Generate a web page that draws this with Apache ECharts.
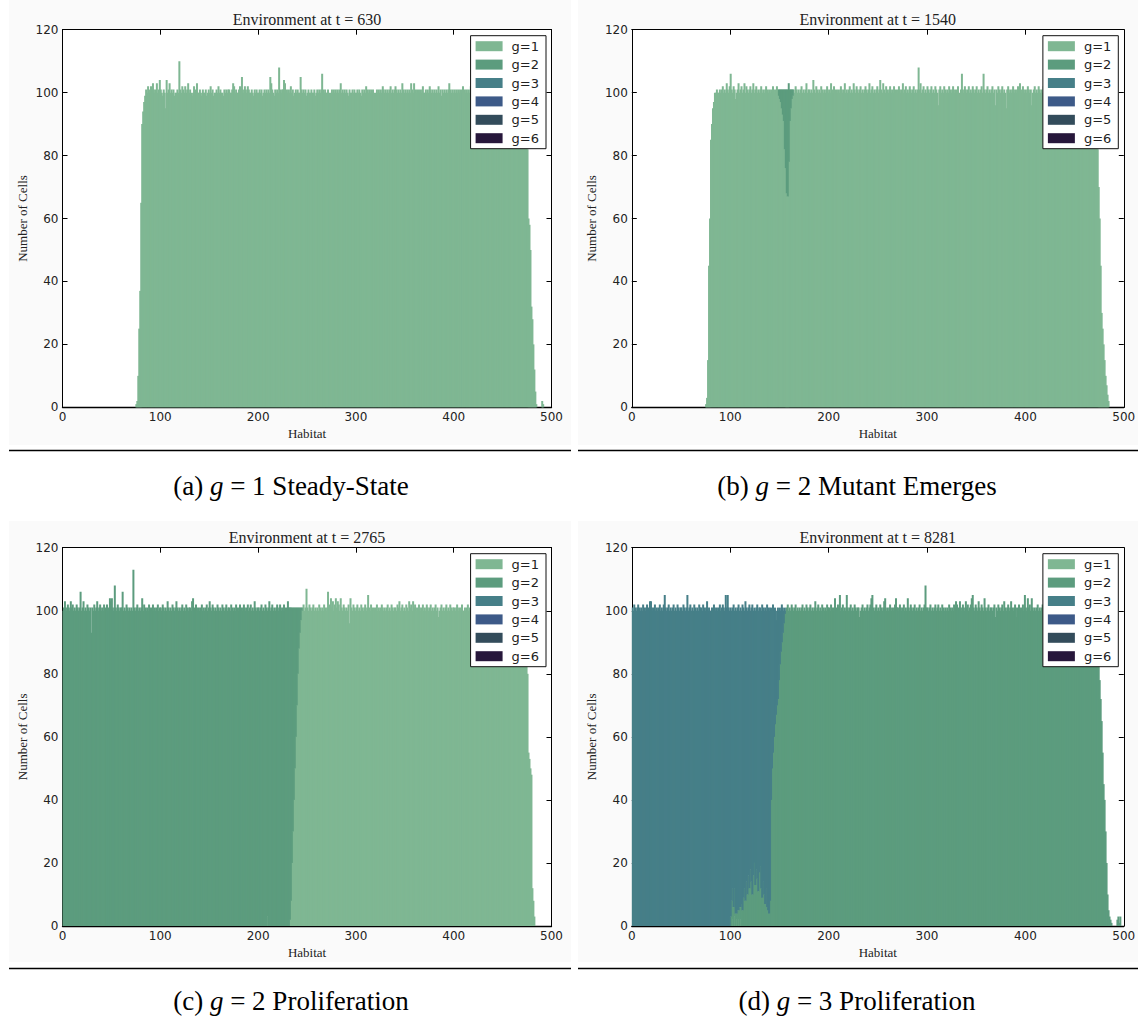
<!DOCTYPE html>
<html><head><meta charset="utf-8">
<script src="https://cdn.jsdelivr.net/npm/echarts@6/dist/echarts.min.js"></script>
<style>
html,body{margin:0;padding:0;background:#fff;width:1138px;height:1019px;overflow:hidden;}
.bg{position:absolute;background:#fafafa;}
#chart{position:absolute;left:0;top:0;width:1138px;height:1019px;}
</style></head><body>
<div class="bg" style="left:9px;top:0;width:562px;height:445px"></div>
<div class="bg" style="left:578px;top:0;width:560px;height:445px"></div>
<div class="bg" style="left:9px;top:521px;width:562px;height:441px"></div>
<div class="bg" style="left:578px;top:521px;width:560px;height:441px"></div>
<div id="chart"></div>
<script>
const legendNames = ['g=1','g=2','g=3','g=4','g=5','g=6'];
const palette = ['#7fb793','#5c9c7e','#467f88','#3d5a88','#334c5b','#27173b'];
const titles = ['Environment at t = 630','Environment at t = 1540','Environment at t = 2765','Environment at t = 8281'];
const captions = ['(a) {i|g} = 1 Steady-State','(b) {i|g} = 2 Mutant Emerges','(c) {i|g} = 2 Proliferation','(d) {i|g} = 3 Proliferation'];
const xTickInterval = 100, xMin = 0, xMax = 500;
const yTickInterval = 20, yMin = 0, yMax = 120;

// Panel (a): counts per habitat bin, g=1
const A_g1 = [
0,0,0,0,0,0,0,0,0,0,
0,0,0,0,0,0,0,0,0,0,
0,0,0,0,0,0,0,0,0,0,
0,0,0,0,0,0,0,0,0,0,
0,0,0,0,0,0,0,0,0,0,
0,0,0,0,0,0,0,0,0,0,
0,0,0,0,0,0,0,0,0,0,
0,0,0,0,0,1,2,10,25,37,
65,90,94,97,99,101,100,102,100,101,
102,100,103,101,100,101,103,100,101,104,
101,100,99,101,100,95,104,100,101,103,
100,101,100,101,99,100,100,101,100,110,
101,100,102,101,100,102,100,101,103,100,
101,100,99,100,102,100,101,103,100,100,
101,100,99,101,100,100,101,99,100,101,
100,102,100,101,99,100,100,101,100,102,
100,101,100,100,99,101,100,101,100,101,
101,100,100,101,103,102,100,101,100,100,
101,102,100,105,101,100,102,101,100,102,
101,100,100,101,100,99,101,100,101,100,
100,101,100,101,99,100,101,100,101,100,
101,100,105,103,101,100,99,101,100,101,
100,108,101,100,101,101,104,103,100,101,
100,101,100,102,100,101,99,100,101,100,
101,100,100,105,101,100,101,100,101,99,
100,101,100,100,101,100,100,101,99,100,
101,100,101,100,101,106,101,100,101,100,
100,101,100,97,100,101,100,101,100,101,
100,101,100,101,103,100,101,100,101,100,
101,100,99,101,100,100,101,100,101,100,
100,101,100,101,100,99,101,100,101,100,
102,101,100,101,100,101,100,101,100,99,
100,101,100,101,100,101,100,102,101,100,
101,100,101,100,101,102,100,101,100,101,
102,101,100,101,100,101,100,103,101,100,
101,100,101,100,101,100,103,101,100,103,
101,100,101,99,101,100,101,100,102,100,
100,101,100,101,100,102,101,100,101,100,
101,100,101,100,102,100,101,99,101,100,
101,100,101,100,101,103,101,100,101,100,
101,100,101,100,101,100,101,100,101,102,
97,101,100,101,100,101,100,102,100,101,
100,101,99,101,100,102,100,101,100,101,
101,100,101,100,102,100,101,100,101,99,
100,101,100,102,100,101,100,101,100,101,
101,100,101,100,101,99,101,100,102,100,
100,102,100,101,100,101,100,101,100,101,
100,100,99,97,88,82,60,58,50,32,
28,20,12,5,1,0,0,0,0,0,
2,1,0,0,0,0,0,0,0,0
];

// Panel (b)
const B_g1 = [
0,0,0,0,0,0,0,0,0,0,
0,0,0,0,0,0,0,0,0,0,
0,0,0,0,0,0,0,0,0,0,
0,0,0,0,0,0,0,0,0,0,
0,0,0,0,0,0,0,0,0,0,
0,0,0,0,0,0,0,0,0,0,
0,0,0,0,0,0,0,0,0,0,
0,0,0,0,0,1,3,15,45,60,
85,90,95,97,100,100,101,100,100,101,
100,101,102,100,101,100,103,101,100,102,
106,101,100,102,101,98,100,101,103,100,
101,102,100,101,103,100,102,101,100,101,
102,100,101,103,100,101,102,100,101,100,
101,102,100,101,100,101,102,101,100,101,
100,101,100,102,101,100,101,102,101,99,
98,97,95,93,91,82,76,68,67,78,
91,95,98,99,101,100,102,101,100,101,
100,101,102,100,101,100,101,103,100,101,
101,100,101,100,104,101,100,102,101,100,
101,100,102,101,100,101,100,101,102,100,
101,100,103,101,100,102,101,100,101,100,
101,100,102,101,100,101,103,100,101,100,
101,102,100,101,100,103,101,100,102,101,
100,101,102,100,101,100,101,102,101,100,
101,103,100,101,102,100,101,100,101,102,
100,101,104,101,100,103,101,100,102,101,
100,101,102,100,101,100,102,101,95,101,
100,102,101,100,101,103,100,101,102,100,
101,100,102,101,100,101,102,100,101,100,
101,108,101,103,100,101,102,100,101,100,
102,101,100,101,102,100,101,100,102,101,
100,96,101,102,100,101,100,102,101,100,
101,100,102,101,100,101,102,100,101,100,
101,102,93,100,101,106,101,100,102,101,
100,101,102,100,101,100,102,101,100,101,
102,100,101,100,101,102,100,106,101,100,
101,102,100,101,100,101,102,100,101,96,
101,100,102,101,100,101,102,100,101,100,
95,101,102,100,101,100,101,102,100,101,
100,101,102,100,103,101,100,102,101,100,
101,100,102,101,100,101,96,100,101,102,
100,101,100,102,101,100,101,100,102,101,
101,100,101,102,100,101,100,101,100,102,
100,101,100,101,102,100,101,100,101,100,
101,100,102,101,100,101,100,101,102,100,
100,101,100,101,100,102,101,100,101,100,
101,100,101,100,102,101,100,101,100,101,
100,99,84,82,70,60,45,30,25,20,
15,10,7,4,2,0,0,0,0,0,
0,0,0,0,0,0,0,0,0,0
];
const B_g2 = [
0,0,0,0,0,0,0,0,0,0,
0,0,0,0,0,0,0,0,0,0,
0,0,0,0,0,0,0,0,0,0,
0,0,0,0,0,0,0,0,0,0,
0,0,0,0,0,0,0,0,0,0,
0,0,0,0,0,0,0,0,0,0,
0,0,0,0,0,0,0,0,0,0,
0,0,0,0,0,0,0,0,0,0,
0,0,0,0,0,0,0,0,0,0,
0,0,0,0,0,0,0,0,0,0,
0,0,0,0,0,0,0,0,0,0,
0,0,0,0,0,0,0,0,0,0,
0,0,0,0,0,0,0,0,0,0,
0,0,0,0,0,0,0,0,0,0,
0,0,0,0,0,0,0,0,0,2,
3,4,6,8,10,19,25,33,34,25,
10,6,3,2,0,0,0,0,0,0,
0,0,0,0,0,0,0,0,0,0,
0,0,0,0,0,0,0,0,0,0,
0,0,0,0,0,0,0,0,0,0,
0,0,0,0,0,0,0,0,0,0,
0,0,0,0,0,0,0,0,0,0,
0,0,0,0,0,0,0,0,0,0,
0,0,0,0,0,0,0,0,0,0,
0,0,0,0,0,0,0,0,0,0,
0,0,0,0,0,0,0,0,0,0,
0,0,0,0,0,0,0,0,0,0,
0,0,0,0,0,0,0,0,0,0,
0,0,0,0,0,0,0,0,0,0,
0,0,0,0,0,0,0,0,0,0,
0,0,0,0,0,0,0,0,0,0,
0,0,0,0,0,0,0,0,0,0,
0,0,0,0,0,0,0,0,0,0,
0,0,0,0,0,0,0,0,0,0,
0,0,0,0,0,0,0,0,0,0,
0,0,0,0,0,0,0,0,0,0,
0,0,0,0,0,0,0,0,0,0,
0,0,0,0,0,0,0,0,0,0,
0,0,0,0,0,0,0,0,0,0,
0,0,0,0,0,0,0,0,0,0,
0,0,0,0,0,0,0,0,0,0,
0,0,0,0,0,0,0,0,0,0,
0,0,0,0,0,0,0,0,0,0,
0,0,0,0,0,0,0,0,0,0,
0,0,0,0,0,0,0,0,0,0,
0,0,0,0,0,0,0,0,0,0,
0,0,0,0,0,0,0,0,0,0,
0,0,0,0,0,0,0,0,0,0,
0,0,0,0,0,0,0,0,0,0,
0,0,0,0,0,0,0,0,0,0
];

// Panel (c)
const C_g1 = [
0,0,0,0,0,0,0,0,0,0,
0,0,0,0,0,0,0,0,0,0,
0,0,0,0,0,0,0,0,0,0,
0,0,0,0,0,0,0,0,0,0,
0,0,0,0,0,0,0,0,0,0,
0,0,0,0,0,0,0,0,0,0,
0,0,0,0,0,0,0,0,0,0,
0,0,0,0,0,0,0,0,0,0,
0,0,0,0,0,0,0,0,0,0,
0,0,0,0,0,0,0,0,0,0,
0,0,0,0,0,0,0,0,0,0,
0,0,0,0,0,0,0,0,0,0,
0,0,0,0,0,0,0,0,0,0,
0,0,0,0,0,0,0,0,0,0,
0,0,0,0,0,0,0,0,0,0,
0,0,0,0,0,0,0,0,0,0,
0,0,0,0,0,0,0,0,0,0,
0,0,0,0,0,0,0,0,0,0,
0,0,0,0,0,0,0,0,0,0,
0,0,0,0,0,0,0,0,0,0,
0,0,0,0,0,0,0,0,0,3,
0,0,0,0,0,0,0,0,0,0,
0,0,0,0,0,0,0,0,0,0,
0,0,2,8,20,30,40,50,60,70,
80,88,93,97,100,101,102,100,101,107,
101,100,102,101,100,101,102,100,101,100,
101,100,102,101,100,101,100,102,101,100,
101,106,101,102,104,101,103,100,102,104,
101,103,102,100,104,101,100,102,101,100,
101,100,102,96,104,101,100,102,101,100,
101,102,100,101,100,102,101,100,101,102,
100,101,105,101,100,102,101,100,101,100,
101,102,100,101,100,101,102,101,100,101,
100,101,102,100,101,100,102,101,100,101,
101,100,102,101,103,100,101,102,100,101,
100,102,101,100,103,101,102,100,103,101,
102,100,101,100,102,101,100,101,102,100,
101,100,102,101,100,101,102,100,101,100,
101,102,100,101,98,100,101,102,100,101,
100,101,102,100,101,100,102,101,100,101,
101,100,101,102,100,101,100,101,102,100,
100,101,100,101,102,100,101,100,101,100,
101,100,101,100,102,101,100,101,100,101,
100,101,102,100,101,100,101,100,102,101,
101,100,101,102,100,101,100,101,100,101,
100,102,101,100,101,100,101,102,100,101,
101,100,101,100,102,101,100,101,100,101,
100,101,99,96,85,80,55,53,50,48,
12,8,3,0,0,0,0,0,0,0,
0,0,0,0,0,0,0,0,0,0
];
const C_g2 = [
100,101,103,101,100,102,101,100,103,101,
102,100,101,100,102,101,100,101,106,100,
101,103,100,101,100,102,101,100,101,93,
101,100,102,100,101,103,100,101,102,100,
101,100,102,101,100,102,101,100,104,103,
104,101,100,108,101,100,102,101,100,101,
101,106,100,101,100,102,101,100,101,100,
101,100,113,101,100,101,102,100,101,100,
101,104,100,102,101,100,101,100,102,101,
100,101,102,100,101,100,101,102,100,101,
101,100,102,101,100,101,100,103,101,100,
101,100,102,101,100,101,103,101,100,101,
100,101,102,100,101,100,102,101,100,101,
101,100,103,104,101,100,102,101,100,101,
100,101,102,100,101,100,101,102,100,101,
103,101,100,102,101,100,101,100,102,101,
100,101,100,102,101,100,101,102,100,101,
101,100,102,101,100,101,100,102,101,100,
101,102,100,101,100,102,101,100,101,102,
100,101,102,100,101,100,103,101,100,101,
101,100,101,102,100,101,100,102,101,97,
101,103,100,101,102,100,101,100,101,102,
100,101,102,100,101,100,102,101,100,101,
103,101,99,93,81,71,61,51,41,31,
21,13,8,4,1,0,0,0,0,0,
0,0,0,0,0,0,0,0,0,0,
0,0,0,0,0,0,0,0,0,0,
0,0,0,0,0,0,0,0,0,0,
0,0,0,0,0,0,0,0,0,0,
0,0,0,0,0,0,0,0,0,0,
0,0,0,0,0,0,0,0,0,0,
0,0,0,0,0,0,0,0,0,0,
0,0,0,0,0,0,0,0,0,0,
0,0,0,0,0,0,0,0,0,0,
0,0,0,0,0,0,0,0,0,0,
0,0,0,0,0,0,0,0,0,0,
0,0,0,0,0,0,0,0,0,0,
0,0,0,0,0,0,0,0,0,0,
0,0,0,0,0,0,0,0,0,0,
0,0,0,0,0,0,0,0,0,0,
0,0,0,0,0,0,0,0,0,0,
0,0,0,0,0,0,0,0,0,0,
0,0,0,0,0,0,0,0,0,0,
0,0,0,0,0,0,0,0,0,0,
0,0,0,0,0,0,0,0,0,0,
0,0,0,0,0,0,0,0,0,0,
0,0,0,0,0,0,0,0,0,0,
0,0,0,0,0,0,0,0,0,0,
0,0,0,0,0,0,0,0,0,0,
0,0,0,0,0,0,0,0,0,0
];

// Panel (d)
const D_g1 = [
0,0,0,0,0,0,0,0,0,0,
0,0,0,0,0,0,0,0,0,0,
0,0,0,0,0,0,0,0,0,0,
0,0,0,0,0,0,0,0,0,0,
0,0,0,0,0,0,0,0,0,0,
0,0,0,0,0,0,0,0,0,0,
0,0,0,0,0,0,0,0,0,0,
0,0,0,0,0,0,0,0,0,0,
0,0,0,0,0,0,0,0,0,0,
0,0,0,0,0,0,0,0,0,0,
0,0,2,0,3,0,2,0,2,0,
2,0,0,0,0,0,0,0,0,0,
0,0,0,0,0,0,0,0,0,0,
0,0,0,0,0,0,0,0,0,0,
0,0,0,0,0,0,0,0,0,0,
0,0,0,0,0,0,0,0,0,0,
0,0,0,0,0,0,0,0,0,0,
0,0,0,0,0,0,0,0,0,0,
0,0,0,0,0,0,0,0,0,0,
0,0,0,0,0,0,0,0,0,0,
0,0,0,0,0,0,0,0,0,0,
0,0,0,0,0,0,0,0,0,0,
0,0,0,0,0,0,0,0,0,0,
0,0,0,0,0,0,0,0,0,0,
0,0,0,0,0,0,0,0,0,0,
0,0,0,0,0,0,0,0,0,0,
0,0,0,0,0,0,0,0,0,0,
0,0,0,0,0,0,0,0,0,0,
0,0,0,0,0,0,0,0,0,0,
0,0,0,0,0,0,0,0,0,0,
0,0,0,0,0,0,0,0,0,0,
0,0,0,0,0,0,0,0,0,0,
0,0,0,0,0,0,0,0,0,0,
0,0,0,0,0,0,0,0,0,0,
0,0,0,0,0,0,0,0,0,0,
0,0,0,0,0,0,0,0,0,0,
0,0,0,0,0,0,0,0,0,0,
0,0,0,0,0,0,0,0,0,0,
0,0,0,0,0,0,0,0,0,0,
0,0,0,0,0,0,0,0,0,0,
0,0,0,0,0,0,0,0,0,0,
0,0,0,0,0,0,0,0,0,0,
0,0,0,0,0,0,0,0,0,0,
0,0,0,0,0,0,0,0,0,0,
0,0,0,0,0,0,0,0,0,0,
0,0,0,0,0,0,0,0,0,0,
0,0,0,0,0,0,0,0,0,0,
0,0,0,0,0,0,0,0,0,0,
0,0,0,0,0,0,0,0,0,0,
0,0,0,0,0,0,0,0,0,0
];
const D_g2 = [
0,0,0,0,0,0,0,0,0,0,
0,0,0,0,0,0,0,0,0,0,
0,0,0,0,0,0,0,0,0,0,
0,0,0,0,0,0,0,0,0,0,
0,0,0,0,0,0,0,0,0,0,
0,0,0,0,0,0,0,0,0,0,
0,0,0,0,0,0,0,0,0,0,
0,0,0,0,0,0,0,0,0,0,
0,0,0,0,0,0,0,0,0,0,
0,0,0,0,0,0,0,0,0,0,
3,8,10,6,9,4,2,5,3,6,
4,7,5,9,12,8,14,10,16,12,
18,14,10,16,20,13,18,15,11,17,
19,12,9,14,10,7,12,6,5,4,
8,40,50,55,60,64,67,70,72,78,
83,87,90,93,96,99,100,101,102,100,
101,100,102,101,100,101,102,100,101,100,
101,100,101,102,100,101,100,102,101,100,
101,102,100,101,100,101,103,100,101,102,
100,101,100,102,101,100,101,100,102,101,
101,100,102,101,100,101,104,100,101,102,
101,105,100,101,102,100,101,100,105,101,
100,101,102,100,101,100,102,101,100,101,
101,98,100,101,102,100,101,100,101,102,
100,101,102,104,105,101,100,101,102,100,
101,100,102,101,100,101,103,104,100,101,
100,101,102,100,101,100,101,102,104,101,
101,100,102,101,100,101,102,100,101,100,
104,101,100,102,101,100,101,102,100,101,
100,101,102,100,101,100,101,102,108,101,
101,100,101,102,100,101,100,101,102,100,
101,102,100,101,100,102,101,100,101,100,
101,100,102,101,100,101,100,102,101,103,
102,101,100,103,101,100,102,101,100,103,
101,102,100,101,102,104,105,101,100,102,
101,100,103,101,100,102,101,100,104,101,
100,101,102,100,101,101,100,101,102,98,
101,100,102,101,100,101,102,100,103,101,
100,101,102,100,101,103,101,100,101,102,
98,101,100,102,101,100,101,102,100,105,
101,100,104,101,102,100,104,101,100,101,
100,101,102,100,101,100,101,102,100,101,
101,100,101,102,100,101,100,101,102,100,
100,101,100,101,102,100,101,100,101,100,
101,100,102,101,100,101,100,102,101,100,
100,101,100,101,102,100,101,100,101,102,
101,100,101,100,101,102,100,101,100,101,
100,100,98,95,85,78,72,65,55,45,
40,30,20,10,5,3,2,1,0,0,
0,0,0,2,3,1,3,0,0,0
];
const D_g3 = [
101,100,102,101,100,101,102,101,100,101,
100,102,101,100,101,102,101,100,103,103,
101,100,101,102,100,101,100,101,102,100,
101,100,102,105,101,100,101,102,100,101,
100,101,102,100,101,100,102,101,100,101,
101,100,102,101,100,101,105,100,101,102,
100,101,100,102,101,100,101,100,102,101,
101,100,102,101,100,101,103,100,101,100,
100,101,100,102,101,100,101,100,101,102,
100,101,102,101,100,105,101,105,101,100,
98,92,89,96,88,97,96,96,97,94,
95,93,97,92,88,95,87,90,85,90,
82,87,92,84,81,87,83,87,89,84,
82,88,93,87,90,94,88,96,96,96,
93,60,51,47,40,37,33,27,29,22,
18,13,12,8,4,2,0,0,0,0,
0,0,0,0,0,0,0,0,0,0,
0,0,0,0,0,0,0,0,0,0,
0,0,0,0,0,0,0,0,0,0,
0,0,0,0,0,0,0,0,0,0,
0,0,0,0,0,0,0,0,0,0,
0,0,0,0,0,0,0,0,0,0,
0,0,0,0,0,0,0,0,0,0,
0,0,0,0,0,0,0,0,0,0,
0,0,0,0,0,0,0,0,0,0,
0,0,0,0,0,0,0,0,0,0,
0,0,0,0,0,0,0,0,0,0,
0,0,0,0,0,0,0,0,0,0,
0,0,0,0,0,0,0,0,0,0,
0,0,0,0,0,0,0,0,0,0,
0,0,0,0,0,0,0,0,0,0,
0,0,0,0,0,0,0,0,0,0,
0,0,0,0,0,0,0,0,0,0,
0,0,0,0,0,0,0,0,0,0,
0,0,0,0,0,0,0,0,0,0,
0,0,0,0,0,0,0,0,0,0,
0,0,0,0,0,0,0,0,0,0,
0,0,0,0,0,0,0,0,0,0,
0,0,0,0,0,0,0,0,0,0,
0,0,0,0,0,0,0,0,0,0,
0,0,0,0,0,0,0,0,0,0,
0,0,0,0,0,0,0,0,0,0,
0,0,0,0,0,0,0,0,0,0,
0,0,0,0,0,0,0,0,0,0,
0,0,0,0,0,0,0,0,0,0,
0,0,0,0,0,0,0,0,0,0,
0,0,0,0,0,0,0,0,0,0,
0,0,0,0,0,0,0,0,0,0,
0,0,0,0,0,0,0,0,0,0,
0,0,0,0,0,0,0,0,0,0
];

// which genotype arrays belong to each panel (g=4..6 have no cells)
const panelSeries = [
  [A_g1, null, null, [], [], []],
  [B_g1, B_g2, null, null, null, null],
  [C_g1, C_g2, null, null, null, null],
  [D_g1, D_g2, D_g3, null, null, null]
];
// habitat bin index for each histogram bar (one bar per unit of habitat)
const habitatBins = A_g1.map((_, i) => i);

// layout
const grids = [
  {left:62.5, top:29.7, width:489, height:377.6},
  {left:631.8, top:29.7, width:492, height:377.6},
  {left:62.5, top:547.7, width:489, height:378.3},
  {left:631.8, top:547.7, width:492, height:378.3}
];
const SERIF = '"Liberation Serif","Times New Roman",serif';
const SANS = '"DejaVu Sans","Bitstream Vera Sans",sans-serif';

const chart = echarts.init(document.getElementById('chart'), null, {renderer:'svg', width:1138, height:1019});

const xAxes = [], yAxes = [], series = [], legends = [], graphics = [];
grids.forEach((g, p) => {
  const tick = {show:true, inside:true, length:5, lineStyle:{color:'#000', width:1}};
  const line = {show:true, onZero:false, lineStyle:{color:'#000', width:1}};
  xAxes.push({gridIndex:p, type:'category', data:habitatBins, boundaryGap:true, show:false});
  xAxes.push({gridIndex:p, type:'value', min:xMin, max:xMax, interval:xTickInterval, position:'bottom',
    axisLine:{...line, lineStyle:{color:'#000', width:1.3}}, axisTick:tick, splitLine:{show:false},
    axisLabel:{show:true, margin:4, color:'#222', fontFamily:SANS, fontSize:12, showMinLabel:true, showMaxLabel:true, hideOverlap:false},
    name:'Habitat', nameLocation:'middle', nameGap:20,
    nameTextStyle:{fontFamily:SERIF, fontSize:13, color:'#222'}});
  xAxes.push({gridIndex:p, type:'value', min:xMin, max:xMax, interval:xTickInterval, position:'top',
    axisLine:line, axisTick:tick, splitLine:{show:false}, axisLabel:{show:false}});
  yAxes.push({gridIndex:p, type:'value', min:yMin, max:yMax, interval:yTickInterval, position:'left',
    axisLine:line, axisTick:tick, splitLine:{show:false},
    axisLabel:{show:true, margin:4, color:'#222', fontFamily:SANS, fontSize:12, showMinLabel:true, showMaxLabel:true, hideOverlap:false},
    name:'Number of Cells', nameLocation:'middle', nameGap:34, nameRotate:90,
    nameTextStyle:{fontFamily:SERIF, fontSize:13, color:'#222'}});
  yAxes.push({gridIndex:p, type:'value', min:yMin, max:yMax, interval:yTickInterval, position:'right',
    axisLine:line, axisTick:tick, splitLine:{show:false}, axisLabel:{show:false}});

  panelSeries[p].forEach((arr, gi) => {
    if (arr === null) return;
    series.push({
      type:'bar', name:legendNames[gi], xAxisIndex:3*p, yAxisIndex:2*p, stack:'panel'+p,
      barWidth:2, silent:true, animation:false,
      itemStyle:{color:palette[gi], borderWidth:0},
      emphasis:{disabled:true},
      data: arr
    });
  });

  const rightEdge = g.left + g.width - 5.5;
  legends.push({
    show:true, orient:'vertical', right: 1138 - rightEdge, top: g.top + 6,
    data: legendNames, icon:'rect', itemWidth:27, itemHeight:10, itemGap:4.4,
    padding:[3.5, 7, 3.5, 5], backgroundColor:'#fff', borderColor:'#111', borderWidth:1, borderRadius:0,
    selectedMode:false, itemStyle:{borderWidth:0},
    textStyle:{fontFamily:SANS, fontSize:13, color:'#222', lineHeight:14, padding:[0,0,0,4]}
  });

  graphics.push({type:'text', x: g.left + g.width/2, y: g.top - 10.5,
    style:{text:titles[p], fontFamily:SERIF, fontSize:16, fill:'#222', align:'center', verticalAlign:'middle'}});
});

const capX = [291, 857, 291, 857];
const capY = [486, 486, 1001, 1001];
const ruleY = [450.5, 450.5, 968.5, 968.5];
const ruleX = [[9, 571], [578, 1138], [9, 571], [578, 1138]];
for (let p = 0; p < 4; p++) {
  graphics.push({type:'line', shape:{x1:ruleX[p][0], y1:ruleY[p], x2:ruleX[p][1], y2:ruleY[p]},
    style:{stroke:'#000', lineWidth:1.5}});
  graphics.push({type:'text', x:capX[p], y:capY[p],
    style:{text:captions[p], fontFamily:SERIF, fontSize:27, lineHeight:30, fill:'#000', align:'center', verticalAlign:'middle',
      rich:{i:{fontStyle:'italic', fontFamily:SERIF, fontSize:27, lineHeight:30, fill:'#000'}}}});
}

chart.setOption({
  animation:false,
  backgroundColor:'transparent',
  grid: grids.map(g => ({...g, show:true, backgroundColor:'#fff', borderWidth:0, containLabel:false, outerBoundsMode:'none'})),
  xAxis: xAxes,
  yAxis: yAxes,
  legend: legends,
  series: series,
  graphic: {elements: graphics}
});
</script>
</body></html>
